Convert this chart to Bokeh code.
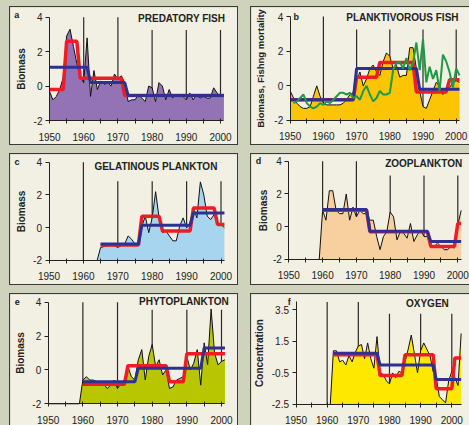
from bokeh.plotting import figure
from bokeh.models import Range1d, FixedTicker, Label, Spacer
from bokeh.layouts import row, column
from bokeh.embed import file_html
from bokeh.resources import INLINE

# ---------------- data ----------------
x_ticks = [1950, 1960, 1970, 1980, 1990, 2000]
x_minor = [1955, 1965, 1975, 1985, 1995]
decade_lines = [1960, 1970, 1980, 1990, 2000]
bio_ticks = [-2, 0, 2, 4]
bio_tick_labels = ["-2", "0", "2", "4"]
oxy_ticks = [-2.5, -0.5, 1.5, 3.5]
oxy_tick_labels = ["-2.5", "-0.5", "1.5", "3.5"]

# a: predatory fish
pred_start = 1950
pred_fish = [-0.3, -0.8, -0.6, -0.2, 0.5, 2.9, 3.3, 2.3, 1.3, 0.5,
             0.2, 2.8, -0.6, 0.9, -0.2, 0.3, 0.1, 0.2, 0.0, 0.7,
             0.4, 0.6, 0.2, -0.9, -0.8, -0.8, -0.5, -0.7, -0.9, 0.0,
             -0.1, -0.9, 0.2, 0.0, -0.8, -0.2, -0.7, -0.5, -0.6, -0.6,
             -0.8, -0.4, -0.8, -0.5, -0.7, -0.6, -0.7, -0.7, -0.1, -0.4,
             -0.6, -0.5]
pred_red_starts = [1950, 1955, 1959, 1972]
pred_red_levels = [-0.2, 2.6, 0.45, -0.55]
pred_blue_starts = [1950, 1962, 1973]
pred_blue_levels = [1.1, 0.2, -0.55]

# b: planktivorous fish + fishing mortality
plank_start = 1950
plank_fish = [-0.3, -0.7, -1.0, -1.2, -1.3, -1.3, -1.2, -0.6, 0.0, -0.6,
              -1.0, -1.1, -1.1, -1.1, -1.1, -1.1, -1.0, -0.8, -0.5, -0.4,
              0.3, 0.8, 0.0, 0.4, 1.0, 1.2, 0.8, 0.6, 1.4, 1.9,
              1.7, 1.0, 1.2, 0.5, 0.6, 0.6, 2.2, 2.2, 1.0, -0.3,
              -1.2, -1.3, -0.8, -0.3, 0.2, 0.0, -0.5, -0.3, -0.1, 0.2,
              0.3, 0.2]
fmort_start = 1951
fish_mortality = [-1.0, -0.9, -0.7, -0.5, -1.0, -1.2, -1.3, -1.2, -1.0,
                  -1.1, -0.9, -1.0, -0.8, -0.6, -0.4, -0.4, -0.5, -0.4, -0.7,
                  -0.6, -0.8, -0.3, 0.0, -0.5, -0.9, -0.7, -0.3, -0.5, -0.5,
                  -0.4, 0.9, 1.3, 1.4, 1.0, 1.6, 0.9, 1.3, 2.5, 0.9,
                  2.7, 0.2, 1.1, 0.4, 0.9, -0.3, 1.8, 1.4, 0.8, -0.1,
                  1.0, 0.6]
plank_red_starts = [1950, 1970, 1977, 1988, 1998]
plank_red_levels = [-0.8, 0.5, 1.35, -0.35, 0.35]
plank_blue_starts = [1950, 1970, 1989]
plank_blue_levels = [-0.8, 1.0, -0.2]

# c: gelatinous plankton
gel_start = 1965
gel_plankton = [-1.2, -1.15, -1.1, -1.1, -1.1, -1.2, -1.1, -1.0, -0.5, -0.7,
                -1.0, -0.9, 0.1, 0.7, -0.3, 0.6, 2.2, 0.6, -0.3, -0.2,
                -0.5, -0.8, -0.8, 0.1, 0.6, 0.0, 0.2, 1.2, 0.6, 2.8,
                2.0, 0.7, 0.5, 0.8, 0.3, 0.2, 0.0]
gel_red_starts = [1965, 1977, 1983, 1992, 1999]
gel_red_levels = [-1.05, 0.7, -0.2, 1.2, 0.2]
gel_blue_starts = [1965, 1977, 1992]
gel_blue_levels = [-1.0, 0.15, 0.9]

# d: zooplankton
zoo_start = 1960
zooplankton = [1.0, 0.4, 2.2, 2.2, 1.0, 0.8, 0.8, 2.0, 0.4, 1.2,
               0.6, 1.0, 0.8, 0.8, 0.4, 0.4, -0.6, -1.4, -0.6, -0.3,
               0.9, 0.6, -0.8, -0.3, -0.4, -0.7, 0.2, -0.9, -0.5, -0.2,
               -0.6, -0.6, -1.2, -1.2, -1.0, -1.2, -1.4, -1.4, -1.2, -1.3,
               0.1, 1.0]
zoo_red_starts = [1960, 1974, 1992, 2000]
zoo_red_levels = [1.0, -0.3, -1.2, 0.2]
zoo_blue_starts = [1960, 1974, 1992]
zoo_blue_levels = [1.05, -0.28, -0.9]

# e: phytoplankton
phyto_start = 1960
phytoplankton = [-0.6, -0.4, -0.6, -0.6, -0.7, -0.8, -0.8, -1.1, -0.9, -0.6,
                 -1.1, -0.8, -0.6, 0.2, -0.4, -0.6, 0.6, 1.2, -0.6, 0.8,
                 1.5, 0.2, 0.6, -0.3, 0.0, -1.1, -1.0, -0.6, -0.5, -0.4,
                 0.8, 0.0, 0.4, 1.2, -0.9, 1.6, 0.3, 3.6, 1.0, 0.3,
                 0.5, 0.6]
phyto_red_starts = [1960, 1973, 1985, 1990]
phyto_red_levels = [-0.85, 0.25, -0.7, 0.95]
phyto_blue_starts = [1960, 1976, 1995]
phyto_blue_levels = [-0.7, 0.1, 1.3]

# f: oxygen
oxy_start = 1962
oxygen = [0.9, 0.9, 0.2, 0.3, 0.0, 0.6, 0.2, 0.8, 1.2, 1.3,
          0.4, 1.4, 0.4, -0.2, 1.8, -0.5, -0.6, -1.0, -1.2, -0.5,
          -0.8, -0.4, -0.5, 0.2, 1.0, 1.9, 0.7, -0.5, 0.9, 1.4,
          1.0, 0.6, -0.4, -0.8, -2.0, -2.2, -2.4, -1.0, -0.4, -0.8,
          -1.3, 2.0]
oxy_red_starts = [1962, 1977, 1985, 1995, 2001]
oxy_red_levels = [0.65, -0.66, 0.65, -1.5, 0.45]
oxy_blue_starts = [1962, 1977, 1995]
oxy_blue_levels = [0.75, 0.0, -0.92]

# ---------------- styles ----------------
PAGE_BG = "#cfd3bb"
CREAM = "#f2efe3"
RED = "#ee1d24"
BLUE = "#2e3092"
GREEN = "#1e9a45"
INK = "#222222"
FONT = "Liberation Sans"


def step_series(starts, levels, end):
    xs, ys = [], []
    for i, (s, lv) in enumerate(zip(starts, levels)):
        e = starts[i + 1] - 1 if i + 1 < len(starts) else end
        for yr in range(s, e + 1):
            xs.append(yr)
            ys.append(lv)
    return xs, ys


def make_panel(box, xmap, ymap, ybounds, yticks, ylabels, ylab, start, values,
               fill, red, blue, title, title_xy, box_xy, letter, letter_xy,
               green=None, ylab_size="10px", ylab_standoff=4):
    # box: (left, top, width, height) of the panel in page pixels
    # xmap: (pixel of 1950, pixels per year); ymap: (pixel of top value, pixels per unit)
    ox, oy, w, h = box
    x0 = 1950 - (xmap[0] - ox) / xmap[1]
    x1 = x0 + w / xmap[1]
    ytop = ybounds[1] + (ymap[0] - oy) / ymap[1]
    ybot = ytop - h / ymap[1]
    p = figure(width=w, height=h, x_range=Range1d(x0, x1), y_range=Range1d(ybot, ytop),
               output_backend="svg", toolbar_location=None, min_border=0,
               background_fill_color=CREAM, border_fill_color=CREAM,
               outline_line_color=None,
               styles={"box-shadow": "0 0 0 1px #3a3a3a"})
    p.grid.visible = False
    end = start + len(values) - 1
    # axes fixed at the data origin
    p.xaxis.fixed_location = ybounds[0]
    p.yaxis.fixed_location = 1950
    p.xaxis.bounds = (1950, end)
    p.yaxis.bounds = ybounds
    p.xaxis.ticker = FixedTicker(ticks=x_ticks, minor_ticks=x_minor)
    p.xaxis.major_label_overrides = {t: str(t) for t in x_ticks}
    p.yaxis.ticker = FixedTicker(ticks=yticks)
    p.yaxis.major_label_overrides = dict(zip(yticks, ylabels))
    for ax in (p.xaxis, p.yaxis):
        ax.axis_line_color = INK
        ax.major_tick_line_color = INK
        ax.minor_tick_line_color = INK
        ax.major_label_text_font = FONT
        ax.major_label_text_font_size = "10px"
        ax.major_label_text_color = INK
    p.xaxis.major_tick_in = 2
    p.xaxis.major_tick_out = 3
    p.xaxis.minor_tick_in = 2
    p.xaxis.minor_tick_out = 3
    p.xaxis.major_label_standoff = 9
    p.yaxis.major_tick_in = 0
    p.yaxis.major_tick_out = 4
    p.yaxis.minor_tick_line_color = None
    p.yaxis.major_label_standoff = 3
    p.yaxis.axis_label = ylab
    p.yaxis.axis_label_text_font = FONT
    p.yaxis.axis_label_text_font_style = "bold"
    p.yaxis.axis_label_text_font_size = ylab_size
    p.yaxis.axis_label_text_color = INK
    p.yaxis.axis_label_standoff = ylab_standoff
    ymin, ymax = ybounds
    # decade lines
    p.segment(x0=decade_lines, y0=ymin, x1=decade_lines, y1=ymax,
              line_color="#2a2a2a", line_width=1.2)
    # title box covering the decade lines
    p.quad(left=box_xy[0], right=x1, bottom=box_xy[1], top=ymax,
           fill_color=CREAM, line_color=None)
    # area series
    xs = list(range(start, start + len(values)))
    ys = list(values)
    if start > 1950:
        xs = [1950, start - 1] + xs
        ys = [ymin, ymin] + ys
    p.varea(x=xs, y1=ymin, y2=ys, fill_color=fill)
    p.line(xs, ys, line_color="#111111", line_width=1)
    rx, ry = step_series(red[0], red[1], end)
    p.line(rx, ry, line_color=RED, line_width=3.5)
    bx, by = step_series(blue[0], blue[1], end)
    p.line(bx, by, line_color=BLUE, line_width=3)
    if green is not None:
        gx = list(range(green[0], green[0] + len(green[1])))
        p.line(gx, green[1], line_color=GREEN, line_width=2)
    p.add_layout(Label(x=title_xy[0], y=title_xy[1], text=title,
                       text_font=FONT, text_font_style="bold",
                       text_font_size="10px", text_baseline="middle",
                       text_color=INK))
    p.add_layout(Label(x=letter_xy[0], y=letter_xy[1], text=letter,
                       text_font=FONT, text_font_style="bold",
                       text_font_size="9px", text_baseline="middle",
                       text_align="center", text_color=INK))
    return p


pa = make_panel((10, 7, 227, 137), (49.0, 3.42), (16.7, 17.217), (-2, 4),
                bio_ticks, bio_tick_labels, "Biomass", pred_start, pred_fish,
                "#9472b6", (pred_red_starts, pred_red_levels),
                (pred_blue_starts, pred_blue_levels),
                "PREDATORY FISH", (1975.9, 3.9), (1974, 3.25), "a", (1940.4, 4.1))
pb = make_panel((251, 7, 218, 137), (289.7, 3.32), (16.0, 17.333), (-2, 4),
                bio_ticks, bio_tick_labels, "Biomass, Fishng mortality",
                plank_start, plank_fish, "#fbc505",
                (plank_red_starts, plank_red_levels),
                (plank_blue_starts, plank_blue_levels),
                "PLANKTIVOROUS FISH", (1966.9, 3.96), (1965, 3.25), "b", (1951.8, 4.0),
                green=(fmort_start, fish_mortality), ylab_size="9.5px",
                ylab_standoff=6)
pc = make_panel((10, 154, 227, 130), (48.5, 3.44), (161.7, 16.383), (-2, 4),
                bio_ticks, bio_tick_labels, "Biomass", gel_start, gel_plankton,
                "#a7d5ef", (gel_red_starts, gel_red_levels),
                (gel_blue_starts, gel_blue_levels),
                "GELATINOUS PLANKTON", (1963.2, 3.74), (1962, 2.84), "c", (1940.7, 4.03))
pd_ = make_panel((251, 154, 218, 130), (288.3, 3.38), (160.7, 16.383), (-2, 4),
                 bio_ticks, bio_tick_labels, "Biomass", zoo_start, zooplankton,
                 "#f8cf9e", (zoo_red_starts, zoo_red_levels),
                 (zoo_blue_starts, zoo_blue_levels),
                 "ZOOPLANKTON", (1978.5, 3.84), (1975, 3.13), "d", (1941.0, 4.04),
                 ylab_standoff=1)
pe = make_panel((10, 294, 227, 131), (47.7, 3.466), (301.7, 16.93), (-2, 4),
                bio_ticks, bio_tick_labels, "Biomass", phyto_start, phytoplankton,
                "#b7c600", (phyto_red_starts, phyto_red_levels),
                (phyto_blue_starts, phyto_blue_levels),
                "PHYTOPLANKTON", (1976.2, 4.06), (1974, 3.55), "e", (1941.1, 4.02))
pf = make_panel((251, 294, 218, 131), (295.5, 3.116), (301.4, 15.783), (-2.5, 4),
                oxy_ticks, oxy_tick_labels, "Concentration", oxy_start, oxygen,
                "#ffe800", (oxy_red_starts, oxy_red_levels),
                (oxy_blue_starts, oxy_blue_levels),
                "OXYGEN", (1985.3, 3.92), (1976, 3.25), "f", (1947.8, 3.98))

r1 = row(Spacer(width=10, height=137), pa, Spacer(width=14, height=137), pb)
r2 = row(Spacer(width=10, height=130), pc, Spacer(width=14, height=130), pd_)
r3 = row(Spacer(width=10, height=131), pe, Spacer(width=14, height=131), pf)
root = column(Spacer(width=469, height=7), r1, Spacer(width=469, height=10), r2,
              Spacer(width=469, height=10), r3,
              styles={"background-color": PAGE_BG})

open("out.html", "w").write(file_html(root, INLINE))
